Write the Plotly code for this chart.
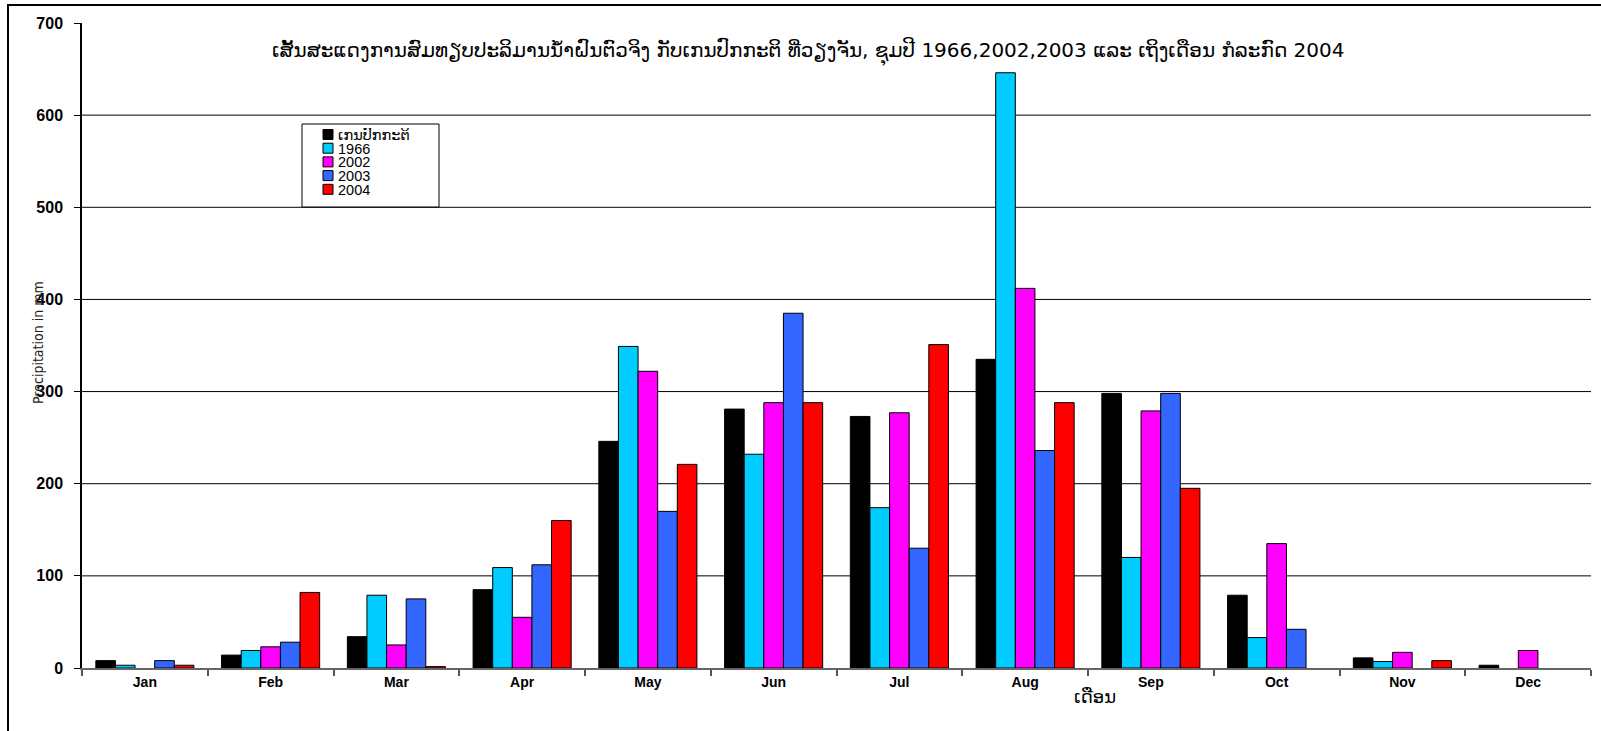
import plotly.graph_objects as go

# Monthly rainfall at Vientiane (mm)
months = ["Jan", "Feb", "Mar", "Apr", "May", "Jun", "Jul", "Aug", "Sep", "Oct", "Nov", "Dec"]
normal = [8, 14, 34, 85, 246, 281, 273, 335, 298, 79, 11, 3]
y1966 = [3, 19, 79, 109, 349, 232, 174, 646, 120, 33, 7, None]
y2002 = [None, 23, 25, 55, 322, 288, 277, 412, 279, 135, 17, 19]
y2003 = [8, 28, 75, 112, 170, 385, 130, 236, 298, 42, None, None]
y2004 = [3, 82, 1.5, 160, 221, 288, 351, 288, 195, None, 8, None]

series_names = ["ເກນປົກກະຕິ", "1966", "2002", "2003", "2004"]
series_values = [normal, y1966, y2002, y2003, y2004]
series_colors = ["#000000", "#00CCFF", "#FF00FF", "#3366FF", "#FF0000"]

y_ticks = [0, 100, 200, 300, 400, 500, 600, 700]

title_text = ("ເສັ້ນສະແດງການສົມທຽບປະລິມານນ້ຳຝົນຕົວຈິງ ກັບເກນປົກກະຕິ ທີ່ວຽງຈັນ, "
              "ຊຸມປີ 1966,2002,2003 ແລະ ເຖິງເດືອນ ກໍລະກົດ 2004")
y_title = "Precipitation in mm"
x_title = "ເດືອນ"

# Page geometry (pixels)
W, H = 1601, 731
ML, MR, MT, MB = 82, 10, 23, 63
PW, PH = W - ML - MR, H - MT - MB


def px(x):
    return (x - ML) / PW


def py(y):
    return (H - MB - y) / PH


fig = go.Figure()
for name, vals, col in zip(series_names, series_values, series_colors):
    fig.add_trace(go.Bar(
        x=months, y=vals, name=name,
        marker=dict(color=col, line=dict(color="#000000", width=1)),
        showlegend=False,
    ))

shapes = []
# Horizontal gridlines (none at the top of the range)
for v in y_ticks[1:-1]:
    shapes.append(dict(type="line", xref="paper", yref="y", x0=0, x1=1, y0=v, y1=v,
                       line=dict(color="#000000", width=1), layer="below"))

# Outer frame
shapes.append(dict(type="rect", xref="paper", yref="paper",
                   x0=px(8), x1=px(W + 20), y0=py(5), y1=py(H + 20),
                   line=dict(color="#000000", width=2), layer="above"))

# Legend box
lx0, lx1, ly0, ly1 = 302, 439, 124, 207
shapes.append(dict(type="rect", xref="paper", yref="paper",
                   x0=px(lx0), x1=px(lx1), y0=py(ly0), y1=py(ly1),
                   line=dict(color="#000000", width=1), fillcolor="#FFFFFF", layer="above"))

annotations = []
row_h = 13.7
for i, (name, col) in enumerate(zip(series_names, series_colors)):
    cy = 134.5 + i * row_h
    shapes.append(dict(type="rect", xref="paper", yref="paper",
                       x0=px(323), x1=px(333), y0=py(cy - 5), y1=py(cy + 5),
                       line=dict(color="#000000", width=1), fillcolor=col, layer="above"))
    annotations.append(dict(xref="paper", yref="paper", x=px(336), y=py(cy),
                            xanchor="left", yanchor="middle", showarrow=False,
                            height=13, valign="middle",
                            text=name,
                            font=dict(family="Liberation Sans, DejaVu Sans", size=14.5, color="#000000")))

# Chart title
annotations.append(dict(xref="paper", yref="paper", x=px(808), y=py(51),
                        xanchor="center", yanchor="middle", showarrow=False,
                        text=title_text,
                        font=dict(family="DejaVu Sans, Liberation Sans", size=20, color="#000000")))

# Y axis title
annotations.append(dict(xref="paper", yref="paper", x=px(38), y=py(343),
                        xanchor="center", yanchor="middle", showarrow=False, textangle=-90,
                        text=y_title,
                        font=dict(family="Liberation Sans Narrow, DejaVu Sans Condensed, Liberation Sans",
                                  size=14, color="#222222")))

# X axis title
annotations.append(dict(xref="paper", yref="paper", x=px(1095), y=py(697),
                        xanchor="center", yanchor="middle", showarrow=False,
                        text=x_title,
                        font=dict(family="DejaVu Sans, Liberation Sans", size=18, color="#000000")))

fig.update_layout(
    width=W, height=H,
    margin=dict(l=ML, r=MR, t=MT, b=MB, pad=0),
    paper_bgcolor="#FFFFFF", plot_bgcolor="#FFFFFF",
    barmode="group", bargap=0.22, bargroupgap=0,
    shapes=shapes, annotations=annotations,
    showlegend=False,
    xaxis=dict(
        type="category", tickson="boundaries", ticks="outside", ticklen=6,
        tickcolor="#555555", tickwidth=2,
        showline=True, linecolor="#666666", linewidth=2,
        showgrid=False, zeroline=False,
        tickfont=dict(family="Liberation Sans, Arial", size=14, color="#000000", weight="bold"),
    ),
    yaxis=dict(
        range=[0, 700], tickvals=y_ticks, ticks="outside", ticklen=6,
        tickcolor="#000000", tickwidth=1,
        showline=True, linecolor="#000000", linewidth=1.5,
        showgrid=False, zeroline=False,
        ticklabelstandoff=8,
        tickfont=dict(family="Liberation Sans, Arial", size=16, color="#000000", weight="bold"),
    ),
)

fig.write_html("out.html")
